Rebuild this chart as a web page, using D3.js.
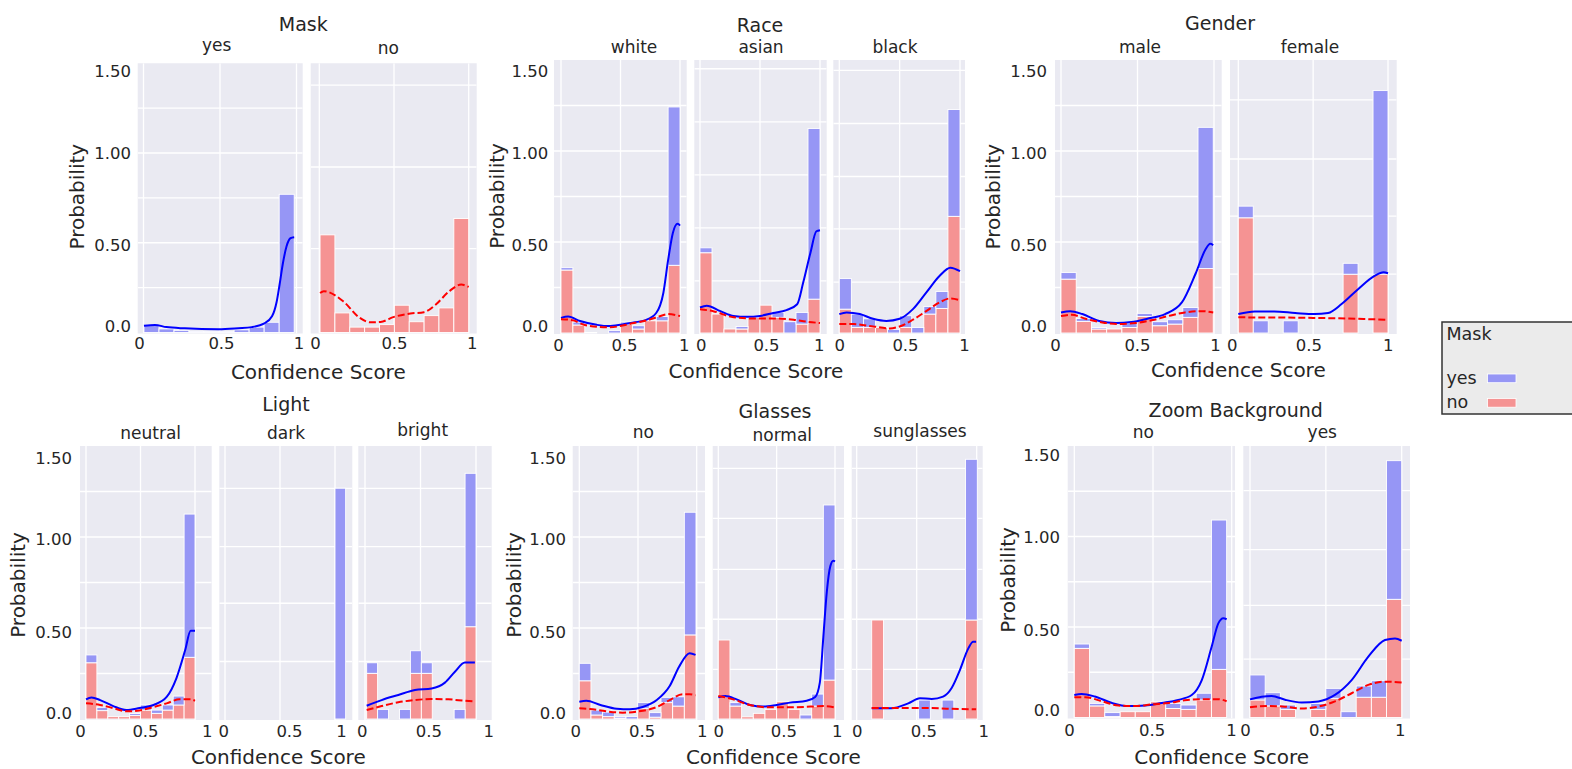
<!DOCTYPE html>
<html><head><meta charset="utf-8">
<script src="https://cdn.jsdelivr.net/npm/d3@7"></script>
<style>
body{margin:0;background:#fff;}
text{font-family:"DejaVu Sans",sans-serif;fill:#262626;}
</style>
</head><body>
<svg id="chart" width="1572" height="769"></svg>
<script>
// ================= DATA =================
const groupTitles = ["Mask", "Race", "Gender", "Light", "Glasses", "Zoom Background"];
const facetLabels = [["yes", "no"], ["white", "asian", "black"], ["male", "female"],
                     ["neutral", "dark", "bright"], ["no", "normal", "sunglasses"], ["no", "yes"]];
const hueLevels = ["yes", "no"];
const legendTitle = "Mask";
const xAxisLabel = "Confidence Score";
const yAxisLabel = "Probability";
const yTickValues = [0, 0.5, 1, 1.5];
const yTickLabels = ["0.0", "0.50", "1.00", "1.50"];
const xTickValues = [0, 0.5, 1];
const xTickLabels = ["0", "0.5", "1"];

// per facet (in reading order): histogram range [first edge, last edge]
const binRanges = [
  [0.003, 0.985], [0.005, 1.0],
  [0, 1], [0, 1], [0, 1],
  [0, 0.995], [0, 1],
  [0, 1], [1.0, 1.097], [0.015, 1.0],
  [0, 0.994], [0, 1], [0.125, 1.005],
  [0, 0.968], [0, 1.0]
];
// bar heights, Mask = no (bottom layer)
const noBars = [
  [0,0,0,0,0,0,0,0,0,0],
  [0.544,0.109,0.03,0.03,0.044,0.152,0.06,0.094,0.137,0.635],
  [0.346,0.044,0,0,0,0.049,0.022,0.067,0.067,0.372],
  [0.441,0.104,0.022,0.022,0.086,0.153,0.086,0,0.049,0.186],
  [0.131,0.031,0.031,0.031,0,0.031,0,0.104,0.135,0.641],
  [0.296,0.064,0.022,0.022,0.03,0.091,0.04,0.049,0.086,0.354],
  [0.633,0,0,0,0,0,0,0.323,0,0.323],
  [0.309,0.046,0.013,0.013,0.02,0.049,0.031,0.049,0.077,0.339],
  [0],
  [0.251,0,0,0,0.251,0.251,0,0,0,0.507],
  [0.21,0.022,0.013,0.005,0,0.059,0.01,0.09,0.071,0.462],
  [0.434,0.071,0.012,0.031,0.053,0.095,0.053,0,0.071,0.214],
  [0.544,0,0,0,0,0,0,0,0.544],
  [0.382,0.064,0.005,0.032,0.032,0.087,0.05,0.045,0.097,0.266],
  [0.097,0.064,0.045,0,0.045,0.106,0,0.112,0.112,0.653]
];
// bar heights, Mask = yes (stacked on top)
const yesBars = [
  [0.039,0.02,0.012,0.006,0.005,0.006,0.015,0.03,0.057,0.77],
  [0,0,0,0,0,0,0,0,0,0],
  [0.013,0.016,0.003,0,0.013,0.011,0.018,0,0.024,0.87],
  [0.027,0,0,0.014,0,0,0.027,0.062,0.064,0.938],
  [0.168,0.073,0.047,0,0.02,0.064,0.03,0.042,0.093,0.587],
  [0.036,0.016,0.008,0,0.025,0.017,0.022,0.024,0.054,0.776],
  [0.064,0.067,0,0.067,0,0,0,0.06,0,1.009],
  [0.043,0.018,0,0,0.01,0.028,0.018,0.028,0.049,0.787],
  [1.268],
  [0.058,0.053,0,0.053,0.124,0.058,0,0,0.053,0.843],
  [0.096,0.027,0.025,0.008,0.013,0.031,0.025,0.029,0.051,0.674],
  [0,0.019,0,0,0,0,0,0.022,0.066,0.962],
  [0,0,0,0,0.104,0,0.104,0,0.883],
  [0.024,0.014,0.022,0,0,0,0.028,0.024,0.037,0.825],
  [0.138,0.073,0.024,0,0.033,0.055,0.032,0.062,0.091,0.766]
];
// KDE curves [score, density]
const kdeYes = [
  [[0.003,0.037],[0.075,0.042],[0.15,0.03],[0.27,0.023],[0.49,0.018],[0.62,0.024],[0.707,0.03],[0.79,0.051],[0.84,0.09],[0.87,0.17],[0.89,0.27],[0.91,0.38],[0.935,0.48],[0.96,0.525],[0.985,0.53]],
  [],
  [[0,0.083],[0.06,0.09],[0.16,0.066],[0.3,0.045],[0.4,0.038],[0.5,0.045],[0.61,0.058],[0.71,0.071],[0.8,0.11],[0.86,0.22],[0.9,0.4],[0.94,0.55],[0.98,0.6],[1.0,0.59]],
  [[0,0.14],[0.056,0.15],[0.17,0.12],[0.28,0.094],[0.39,0.089],[0.5,0.094],[0.61,0.11],[0.72,0.126],[0.81,0.158],[0.86,0.277],[0.92,0.44],[0.97,0.559],[1.0,0.565]],
  [[0,0.104],[0.06,0.113],[0.17,0.104],[0.28,0.078],[0.39,0.066],[0.5,0.078],[0.61,0.131],[0.72,0.222],[0.83,0.313],[0.92,0.359],[1.0,0.34]],
  [[0,0.113],[0.06,0.12],[0.14,0.104],[0.25,0.066],[0.36,0.055],[0.46,0.06],[0.57,0.08],[0.68,0.104],[0.79,0.168],[0.88,0.327],[0.945,0.46],[0.975,0.49],[0.995,0.483]],
  [[0,0.104],[0.11,0.118],[0.24,0.118],[0.38,0.11],[0.51,0.104],[0.6,0.11],[0.69,0.159],[0.8,0.241],[0.91,0.314],[0.97,0.334],[1.0,0.328]],
  [[0,0.108],[0.05,0.118],[0.13,0.104],[0.25,0.071],[0.37,0.049],[0.49,0.06],[0.62,0.077],[0.74,0.121],[0.83,0.225],[0.91,0.379],[0.96,0.485],[1.0,0.485]],
  [],
  [[0.015,0.073],[0.15,0.104],[0.3,0.132],[0.45,0.159],[0.6,0.168],[0.72,0.2],[0.81,0.26],[0.9,0.31],[0.99,0.31]],
  [[0,0.095],[0.06,0.1],[0.18,0.077],[0.32,0.056],[0.43,0.053],[0.54,0.066],[0.66,0.104],[0.77,0.181],[0.85,0.287],[0.94,0.361],[0.99,0.352]],
  [[0,0.119],[0.06,0.126],[0.157,0.108],[0.271,0.077],[0.386,0.068],[0.5,0.077],[0.614,0.09],[0.757,0.1],[0.83,0.121],[0.87,0.2],[0.9,0.45],[0.93,0.7],[0.96,0.84],[0.985,0.87],[1.0,0.865]],
  [[0.125,0.059],[0.29,0.059],[0.43,0.086],[0.527,0.114],[0.625,0.11],[0.72,0.123],[0.79,0.169],[0.86,0.269],[0.93,0.388],[0.97,0.425],[0.995,0.425]],
  [[0,0.124],[0.047,0.13],[0.13,0.116],[0.24,0.08],[0.343,0.063],[0.45,0.066],[0.555,0.08],[0.66,0.097],[0.746,0.124],[0.81,0.207],[0.873,0.392],[0.915,0.52],[0.947,0.548],[0.968,0.543]],
  [[0,0.1],[0.077,0.115],[0.143,0.119],[0.231,0.098],[0.341,0.083],[0.451,0.089],[0.56,0.125],[0.67,0.207],[0.78,0.336],[0.89,0.428],[0.956,0.437],[1.0,0.424]]
];
const kdeNo = [
  [],
  [[0.005,0.22],[0.03,0.23],[0.16,0.174],[0.27,0.082],[0.34,0.057],[0.41,0.059],[0.5,0.087],[0.61,0.106],[0.7,0.113],[0.78,0.156],[0.87,0.23],[0.95,0.267],[1.0,0.254]],
  [[0,0.076],[0.1,0.07],[0.2,0.044],[0.4,0.031],[0.6,0.053],[0.75,0.075],[0.82,0.09],[0.9,0.104],[1.0,0.093]],
  [[0,0.13],[0.11,0.12],[0.28,0.086],[0.44,0.08],[0.61,0.08],[0.78,0.073],[0.89,0.062],[1.0,0.055]],
  [[0,0.049],[0.12,0.049],[0.28,0.036],[0.42,0.025],[0.5,0.036],[0.61,0.073],[0.72,0.12],[0.83,0.168],[0.92,0.19],[1.0,0.18]],
  [[0,0.093],[0.07,0.1],[0.16,0.078],[0.27,0.058],[0.38,0.049],[0.49,0.055],[0.6,0.071],[0.7,0.093],[0.81,0.113],[0.92,0.12],[0.995,0.113]],
  [[0,0.086],[0.5,0.083],[1.0,0.073]],
  [[0,0.086],[0.13,0.077],[0.25,0.06],[0.37,0.042],[0.49,0.047],[0.62,0.066],[0.74,0.086],[0.86,0.108],[0.96,0.108],[1.0,0.1]],
  [],
  [[0.015,0.049],[0.15,0.071],[0.3,0.092],[0.45,0.104],[0.6,0.11],[0.75,0.108],[0.9,0.1],[0.99,0.096]],
  [[0,0.059],[0.09,0.055],[0.23,0.042],[0.37,0.035],[0.51,0.042],[0.66,0.066],[0.77,0.104],[0.88,0.136],[0.94,0.136],[0.99,0.13]],
  [[0,0.126],[0.1,0.113],[0.27,0.077],[0.44,0.064],[0.61,0.064],[0.79,0.068],[0.9,0.071],[1.0,0.064]],
  [[0.125,0.06],[0.35,0.06],[0.6,0.06],[0.75,0.057],[0.995,0.053]],
  [[0,0.112],[0.07,0.112],[0.174,0.09],[0.28,0.066],[0.386,0.063],[0.49,0.072],[0.6,0.08],[0.7,0.095],[0.81,0.101],[0.915,0.101],[0.968,0.09]],
  [[0,0.056],[0.12,0.064],[0.23,0.06],[0.34,0.05],[0.45,0.06],[0.56,0.089],[0.67,0.134],[0.78,0.18],[0.89,0.198],[1.0,0.193]]
];
// horizontal grid values of each facet (each facet had its own y locator)
const gridValues = [
  [0.25,0.5,0.75,1,1.25], [0.467,0.922,1.378],
  [0.25,0.5,0.75,1,1.25], [0.286,0.578,0.869,1.16,1.452], [0.28,0.572,0.86,1.151,1.443],
  [0.25,0.5,0.75,1,1.25], [0.323,0.642,0.956,1.281],
  [0.25,0.5,0.75,1,1.25], [0.316,0.636,0.947,1.267], [0.316,0.636,0.947,1.267],
  [0.25,0.5,0.75,1,1.25], [0.273,0.548,0.822,1.102,1.377], [0.273,0.548,0.822,1.102,1.377],
  [0.25,0.5,0.75,1,1.25], [0.322,0.619,0.927,1.253]
];

// ================= LAYOUT (pixels) =================
const layout = [
  {title:[303.3,30.7], ylab:[77.3,196.7], xlab:[318.3,378.5], tickRight:131, y0:332.5, y15:63.25,
   yLabelPos:[326,245,153,71], xTickY:343.3,
   facets:[{l:137.7,r:302.7,g0:143.5,g1:296.5,t:[139,221,298.5],sub:[216.7,50.5]},
           {l:310.7,r:476.7,g0:319.3,g1:468.7,t:[315,394,471.7],sub:[388.3,53.5]}]},
  {title:[760,32], ylab:[496.7,196], xlab:[756,378.3], tickRight:548.3, y0:333, y15:60,
   yLabelPos:[325.5,245,152.5,71], xTickY:345,
   facets:[{l:554,r:686.7,g0:561,g1:680,t:[558,624,683.7],sub:[634,52.5]},
           {l:694.3,r:826.7,g0:700,g1:820,t:[700.7,766,818.7],sub:[761,52.5]},
           {l:833.3,r:965,g0:839.3,g1:960,t:[839.3,905,964],sub:[895,53]}]},
  {title:[1220,29.5], ylab:[993.3,196.7], xlab:[1238.3,376.5], tickRight:1047, y0:333, y15:60,
   yLabelPos:[325.5,245,152.5,71], xTickY:345,
   facets:[{l:1055,r:1221.7,g0:1061,g1:1214,t:[1055,1137,1215],sub:[1140,52.5]},
           {l:1230,r:1396.7,g0:1238.3,g1:1388,t:[1231.7,1308.3,1387.7],sub:[1310,53]}]},
  {title:[286,410.7], ylab:[18.3,585], xlab:[278.3,764], tickRight:72, y0:719, y15:446,
   yLabelPos:[713,632,539,458], xTickY:731.7,
   facets:[{l:80,r:211.7,g0:86,g1:195,t:[80,145,206.7],sub:[150.7,439]},
           {l:219.3,r:352.3,g0:225,g1:335,t:[223.3,289,341],sub:[286,438.5]},
           {l:358.3,r:491.7,g0:365,g1:476,t:[361.7,428.3,488.3],sub:[422.7,435.5]}]},
  {title:[775,418], ylab:[514,585], xlab:[773.3,764], tickRight:566, y0:719, y15:446,
   yLabelPos:[713,632,539,458], xTickY:731.7,
   facets:[{l:572.7,r:705,g0:579.3,g1:696.7,t:[575.3,641.7,701.7],sub:[643.3,437.5]},
           {l:712.7,r:844,g0:718.3,g1:835,t:[718.3,783.3,836.7],sub:[782.3,440.5]},
           {l:851.7,r:982.7,g0:856.7,g1:976.7,t:[856.7,923.3,983.3],sub:[920,437]}]},
  {title:[1235.7,416.7], ylab:[1008.3,580], xlab:[1221.7,764], tickRight:1060, y0:717.5, y15:446,
   yLabelPos:[710,630,536.7,455], xTickY:730,
   facets:[{l:1067.7,r:1235,g0:1074.3,g1:1231.7,t:[1069,1151.7,1231],sub:[1143.3,438]},
           {l:1243.3,r:1410,g0:1250,g1:1401.7,t:[1245,1321.7,1399.7],sub:[1322.3,438]}]}
];
const colors = {yes: "#9696f5", no: "#f59393", lineYes: "#0000ff", lineNo: "#ff0000", bg: "#eaeaf2"};

// ================= DRAW =================
const svg = d3.select("#chart");
let facetIndex = 0;

layout.forEach((G, gi) => {
  const g = svg.append("g");
  const y = d3.scaleLinear().domain([0, 1.5]).range([G.y0, G.y15]);
  const yLab = d3.scaleLinear().domain(yTickValues).range(G.yLabelPos);

  g.append("text").attr("x", G.title[0]).attr("y", G.title[1])
    .attr("text-anchor", "middle").style("font-size", "19px").text(groupTitles[gi]);
  g.append("text").attr("transform", `translate(${G.ylab[0]},${G.ylab[1]}) rotate(-90)`)
    .attr("text-anchor", "middle").attr("dy", "0.35em").style("font-size", "20px").text(yAxisLabel);
  g.append("text").attr("x", G.xlab[0]).attr("y", G.xlab[1])
    .attr("text-anchor", "middle").style("font-size", "20px").text(xAxisLabel);

  g.append("g").attr("transform", `translate(${G.tickRight},0)`)
    .call(d3.axisLeft(yLab).tickValues(yTickValues).tickFormat((d, i) => yTickLabels[i]).tickSize(0).tickPadding(0))
    .call(s => { s.select(".domain").remove(); s.selectAll("text").attr("dy", "0.35em").style("font-size", "16.5px"); });

  G.facets.forEach((F, k) => {
    const fi = facetIndex++;
    const x = d3.scaleLinear().domain([0, 1]).range([F.g0, F.g1]);
    const xLab = d3.scaleLinear().domain(xTickValues).range(F.t);
    const fg = g.append("g");
    const clipId = "clip" + fi;
    fg.append("clipPath").attr("id", clipId).append("rect")
      .attr("x", F.l).attr("y", G.y15).attr("width", F.r - F.l).attr("height", G.y0 - G.y15 + 1);

    fg.append("rect").attr("x", F.l).attr("y", G.y15).attr("width", F.r - F.l)
      .attr("height", G.y0 - G.y15 + 1).attr("fill", colors.bg);

    const plot = fg.append("g").attr("clip-path", `url(#${clipId})`);
    // grid
    plot.selectAll("line.gv").data(xTickValues).enter().append("line")
      .attr("x1", d => x(d)).attr("x2", d => x(d)).attr("y1", G.y15).attr("y2", G.y0 + 1)
      .attr("stroke", "#fff").attr("stroke-width", 1.3);
    plot.selectAll("line.gh").data(gridValues[fi]).enter().append("line")
      .attr("x1", F.l).attr("x2", F.r).attr("y1", d => y(d)).attr("y2", d => y(d))
      .attr("stroke", "#fff").attr("stroke-width", 1.3);

    // histogram (stacked: no bottom, yes on top)
    const [lo, hi] = binRanges[fi];
    const n = noBars[fi].length;
    const w = (hi - lo) / n;
    const rows = noBars[fi].map((v, i) => ({x0: lo + i * w, x1: lo + (i + 1) * w, no: v, yes: yesBars[fi][i]}));
    const stacked = d3.stack().keys(["no", "yes"])(rows);
    stacked.forEach(layer => {
      plot.append("g").selectAll("rect").data(layer.filter(d => d[1] - d[0] > 0.0005)).enter().append("rect")
        .attr("x", d => x(d.data.x0)).attr("width", d => x(d.data.x1) - x(d.data.x0))
        .attr("y", d => y(d[1])).attr("height", d => y(d[0]) - y(d[1]))
        .attr("fill", colors[layer.key]).attr("stroke", "#fff").attr("stroke-width", 0.9);
    });

    // KDE lines
    const line = d3.line().x(d => x(d[0])).y(d => y(d[1])).curve(d3.curveMonotoneX);
    if (kdeYes[fi].length) plot.append("path").datum(kdeYes[fi]).attr("d", line)
      .attr("fill", "none").attr("stroke", colors.lineYes).attr("stroke-width", 2);
    if (kdeNo[fi].length) plot.append("path").datum(kdeNo[fi]).attr("d", line)
      .attr("fill", "none").attr("stroke", colors.lineNo).attr("stroke-width", 2).attr("stroke-dasharray", "7,3");

    // x tick labels
    fg.append("g").attr("transform", `translate(0,${G.xTickY})`)
      .call(d3.axisBottom(xLab).tickValues(xTickValues).tickFormat((d, i) => xTickLabels[i]).tickSize(0).tickPadding(0))
      .call(s => { s.select(".domain").remove(); s.selectAll("text").attr("y", 0).attr("dy", "0.35em").style("font-size", "16.5px"); });

    // facet title
    fg.append("text").attr("x", F.sub[0]).attr("y", F.sub[1]).attr("text-anchor", "middle")
      .style("font-size", "17px").text(facetLabels[gi][k]);
  });
});

// ================= LEGEND =================
const lg = svg.append("g");
lg.append("rect").attr("x", 1442).attr("y", 322).attr("width", 140).attr("height", 92)
  .attr("fill", "#ebebeb").attr("stroke", "#333").attr("stroke-width", 1.5);
lg.append("text").attr("x", 1446.5).attr("y", 339.5).style("font-size", "17.5px").text(legendTitle);
hueLevels.forEach((h, i) => {
  const by = 383.5 + i * 24.5;
  lg.append("text").attr("x", 1446.5).attr("y", by).style("font-size", "17.5px").text(h);
  lg.append("rect").attr("x", 1487.5).attr("y", by - 9.5).attr("width", 28.5).attr("height", 8.7)
    .attr("fill", colors[h]).attr("stroke", "#fff").attr("stroke-width", 0.8);
});
</script>
</body></html>
